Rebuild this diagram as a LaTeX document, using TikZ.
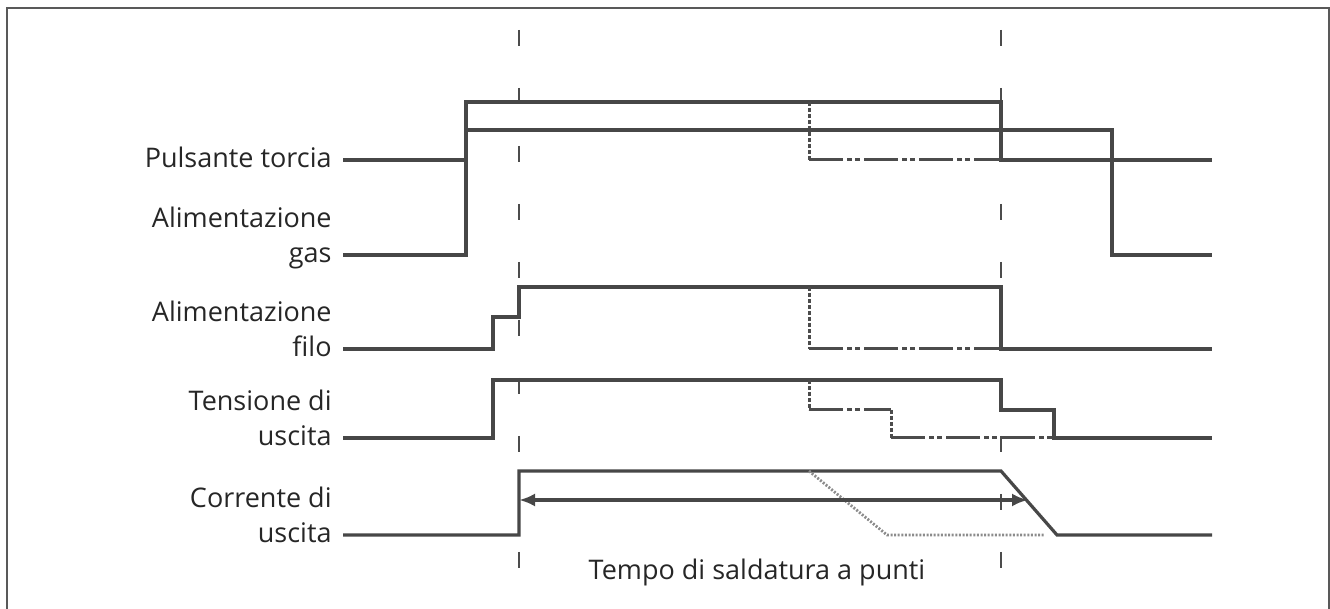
\documentclass[tikz,border=0pt]{standalone}
\usepackage{fontspec}
\setmainfont{Open Sans}
\usetikzlibrary{arrows.meta}

\begin{document}
\begin{tikzpicture}[x=0.5pt,y=-0.5pt,
  signal/.style={line width=1.6pt,draw=black!72},
  altline/.style={line width=1.5pt,draw=black!70,dash pattern=on 17pt off 2pt on 2.5pt off 1.5pt on 2.5pt off 2pt},
  altdrop/.style={line width=1.5pt,draw=black!70,dash pattern=on 2pt off 1pt},
  fadeline/.style={line width=1.4pt,draw=black!45,dash pattern=on 1pt off 0.8pt},
  guide/.style={line width=1.2pt,draw=black!70,dash pattern=on 8pt off 21pt},
  sig label/.style={align=right,anchor=base east,inner sep=0pt,text=black!85,font=\fontsize{13.5pt}{17.5pt}\selectfont}]
\useasboundingbox (0,0) rectangle (1330,609);
% frame
\draw[line width=1pt,black!65] (7,620) -- (7,8) -- (1329,8) -- (1329,620);
% labels
\node[sig label](pulsante) at (332,168){Pulsante torcia};
\node[sig label](gas) at (332,263){Alimentazione\\gas};
\node[sig label](filo) at (332,357){Alimentazione\\filo};
\node[sig label](tensione) at (332,446){Tensione di\\uscita};
\node[sig label](corrente) at (332,543){Corrente di\\uscita};
\node[sig label,anchor=base](tempo) at (757,580){Tempo di saldatura a punti};
% guides
\draw[guide] (519,30) -- (519,570);
\draw[guide] (1001,30) -- (1001,570);
% pulsante torcia
\draw[signal] (343,160) -- (466,160) -- (466,102) -- (1001,102) -- (1001,160) -- (1212,160);
\draw[altdrop] (809,102) -- (809,160);
\draw[altline] (809,160) -- (1001,160);
% alimentazione gas
\draw[signal] (343,255) -- (466,255) -- (466,130) -- (1112,130) -- (1112,255) -- (1212,255);
% alimentazione filo
\draw[signal] (343,349) -- (493,349) -- (493,317) -- (519,317) -- (519,287) -- (1001,287) -- (1001,349) -- (1212,349);
\draw[altdrop] (809,287) -- (809,349);
\draw[altline] (809,349) -- (1001,349);
% tensione di uscita
\draw[signal] (343,438) -- (493,438) -- (493,380) -- (1001,380) -- (1001,410) -- (1054,410) -- (1054,438) -- (1212,438);
\draw[altdrop] (809,380) -- (809,410);
\draw[altline] (809,410) -- (891,410);
\draw[altdrop] (891,410) -- (891,438);
\draw[altline] (891,438) -- (1054,438);
% corrente di uscita
\draw[signal] (343,535) -- (519,535) -- (519,471) -- (1001,471) -- (1057,535) -- (1212,535);
\draw[fadeline] (809,471) -- (887,535) -- (1045,535);
% tempo
\coordinate (tstart) at (519,500);
\coordinate (tend) at (1028,500);
\draw[signal,{Latex[length=8pt,width=6.5pt]}-{Latex[length=8pt,width=6.5pt]}] (tstart) -- (tend);
\end{tikzpicture}
\end{document}
